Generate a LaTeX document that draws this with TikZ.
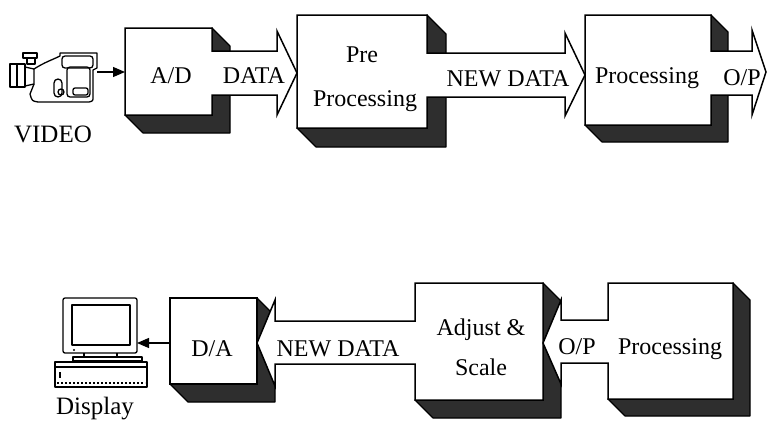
\documentclass[tikz,border=0pt]{standalone}
\usepackage{fontspec}
\setmainfont{Liberation Serif}
\usetikzlibrary{arrows.meta}
\begin{document}
\begin{tikzpicture}[x=1pt,y=-1pt,
  shadowface/.style={fill=black!82, draw=black, line width=1.2pt, line join=round},
  frontface/.style={fill=white, draw=black, line width=1.5pt, line join=miter},
  lbl/.style={font=\fontsize{24}{28}\selectfont, anchor=base, inner sep=0pt},
  biglbl/.style={font=\fontsize{25}{29}\selectfont, anchor=base, inner sep=0pt},
  link/.style={draw, line width=1.3pt, -{Triangle[length=12pt,width=10pt]}},
  icon/.style={draw, line width=1.3pt, line join=round},
  iconthick/.style={draw, line width=2.2pt, line join=round}]
\useasboundingbox (0,0) rectangle (768,431);

% ---------------- top row: camera -> A/D -> Pre Processing -> Processing
% camcorder
\begin{scope}
  \draw[iconthick] (10,64) rectangle (25,87);
  \draw[icon] (17,64) -- (17,87);
  \draw[icon] (25,67) -- (34,69) -- (34,84) -- (25,86);
  \draw[icon] (23,53) rectangle (37,58);
  \draw[icon] (27,58) rectangle (35,64);
  \draw[icon] (34,69) .. controls (45,62) and (52,60) .. (60,56) -- (60,53)
    -- (97,53) -- (97,68) -- (93,70) -- (93,97)
    .. controls (93,101) .. (89,102) -- (38,102)
    .. controls (32,101) .. (30,94) -- (34,84);
  \draw[icon, rounded corners=3pt] (62,56) rectangle (93,68);
  \draw[icon, rounded corners=3pt] (67,67) rectangle (90,97);
  \draw[icon, rounded corners=4pt] (54,79) rectangle (62,97);
  \draw[icon] (61,92) circle (3);
  \draw[icon, rounded corners=2pt] (73,88) rectangle (88,95);
\end{scope}
\coordinate (camout) at (97,72);
\node[biglbl] (video) at (53,142) {VIDEO};

% A/D block
\coordinate (adin) at (125,72);
\path[shadowface] (212,28) -- (230,46) -- (230,133) -- (143,133) -- (125,115) -- cycle;
\path[frontface] (125,28) -- (212,28) -- (212,51) -- (277,51) -- (277,31) -- (297,73)
  -- (277,115) -- (277,95) -- (212,95) -- (212,115) -- (125,115) -- cycle;
\node[lbl] (ad) at (171,83) {A/D};
\node[lbl] (data) at (254,83) {DATA};
\draw[link] (camout) -- (adin);

% Pre Processing block
\path[shadowface] (427,15) -- (446,34) -- (446,147) -- (316,147) -- (297,128) -- cycle;
\path[frontface] (297,15) -- (427,15) -- (427,53) -- (565,53) -- (565,33) -- (585,75)
  -- (565,116) -- (565,97) -- (427,97) -- (427,128) -- (297,128) -- cycle;
\node[lbl] (pre) at (362,62) {Pre};
\node[lbl] (preproc) at (365,106) {Processing};
\node[lbl] (newdata1) at (508,86) {NEW DATA};

% Processing block
\path[shadowface] (711,15) -- (728,32) -- (728,142) -- (602,142) -- (585,125) -- cycle;
\path[frontface] (585,15) -- (711,15) -- (711,51) -- (752,51) -- (752,30) -- (766,72)
  -- (752,115) -- (752,95) -- (711,95) -- (711,125) -- (585,125) -- cycle;
\node[lbl] (proc1) at (647,83) {Processing};
\node[lbl] (op1) at (742,85) {O/P};

% ---------------- bottom row: Processing -> Adjust & Scale -> D/A -> display
% D/A block
\path[shadowface] (257,298) -- (275,316) -- (275,402) -- (188,402) -- (170,384) -- cycle;
\path[frontface] (170,298) rectangle (257,384);
\coordinate (daout) at (170,343);
\node[lbl] (da) at (212,356) {D/A};

% Adjust & Scale block
\path[shadowface] (543,283) -- (561,301) -- (561,418) -- (433,418) -- (415,400) -- cycle;
\path[frontface] (415,283) -- (543,283) -- (543,400) -- (415,400) -- (415,364)
  -- (275,364) -- (275,386) -- (257,343) -- (275,300) -- (275,321) -- (415,321) -- cycle;
\node[lbl] (adjust) at (481,335) {Adjust \&};
\node[lbl] (scale) at (481,375) {Scale};
\node[lbl] (newdata2) at (338,356) {NEW DATA};

% Processing block
\path[shadowface] (733,283) -- (750,300) -- (750,416) -- (625,416) -- (608,399) -- cycle;
\path[frontface] (608,283) -- (733,283) -- (733,399) -- (608,399) -- (608,363)
  -- (561,363) -- (561,384) -- (543,343) -- (561,300) -- (561,320) -- (608,320) -- cycle;
\node[lbl] (op2) at (577,354) {O/P};
\node[lbl] (proc2) at (670,354) {Processing};

% desktop computer
\begin{scope}
  \draw[icon, rounded corners=2pt] (63,298) rectangle (137,353);
  \draw[iconthick] (72,305) rectangle (130,345);
  \fill (74,350) circle (1.2);
  \draw[icon] (84,353) -- (84,357);
  \draw[icon] (117,353) -- (117,357);
  \draw[icon] (73,357) rectangle (142,361);
  \draw[icon] (55,362) rectangle (147,387);
  \draw[icon] (55,367) -- (147,367);
  \draw[line width=1.5pt, dash pattern=on 2pt off 2pt] (57,383) -- (145,383);
  \draw[line width=1.5pt] (60,372) -- (60,378);
\end{scope}
\coordinate (pcin) at (137,343);
\draw[link] (daout) -- (pcin);
\node[biglbl] (display) at (95,414) {Display};
\end{tikzpicture}
\end{document}
